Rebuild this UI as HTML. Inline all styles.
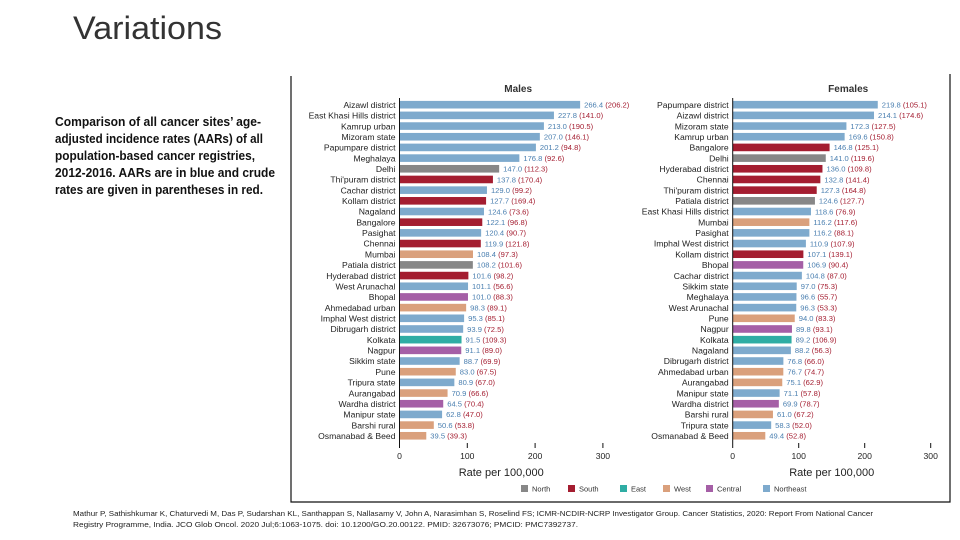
<!DOCTYPE html>
<html><head><meta charset="utf-8"><style>
body{margin:0;background:#fff}
svg{display:block;font-family:"Liberation Sans",sans-serif}
</style></head><body>
<svg id="chart" width="960" height="540" viewBox="0 0 960 540" xmlns="http://www.w3.org/2000/svg">
<text x="73" y="39" font-size="32" fill="#333" textLength="149" lengthAdjust="spacingAndGlyphs">Variations</text>
<g font-size="12.5" font-weight="bold" fill="#111">
<text x="55" y="126" textLength="206" lengthAdjust="spacingAndGlyphs">Comparison of all cancer sites’ age-</text>
<text x="55" y="143" textLength="208" lengthAdjust="spacingAndGlyphs">adjusted incidence rates (AARs) of all</text>
<text x="55" y="160" textLength="200" lengthAdjust="spacingAndGlyphs">population-based cancer registries,</text>
<text x="55" y="177" textLength="220" lengthAdjust="spacingAndGlyphs">2012-2016. AARs are in blue and crude</text>
<text x="55" y="194" textLength="208" lengthAdjust="spacingAndGlyphs">rates are given in parentheses in red.</text>
</g>
<g font-size="7.5" fill="#222">
<text x="73" y="516" textLength="800" lengthAdjust="spacingAndGlyphs">Mathur P, Sathishkumar K, Chaturvedi M, Das P, Sudarshan KL, Santhappan S, Nallasamy V, John A, Narasimhan S, Roselind FS; ICMR-NCDIR-NCRP Investigator Group. Cancer Statistics, 2020: Report From National Cancer</text>
<text x="73" y="527" textLength="505" lengthAdjust="spacingAndGlyphs">Registry Programme, India. JCO Glob Oncol. 2020 Jul;6:1063-1075. doi: 10.1200/GO.20.00122. PMID: 32673076; PMCID: PMC7392737.</text>
</g>
<path d="M291 76 V502 H950 V74" fill="none" stroke="#111" stroke-width="1.2"/>
<g id="plots"></g>
</svg>
<script>
const maleNames=["Aizawl district","East Khasi Hills district","Kamrup urban","Mizoram state","Papumpare district","Meghalaya","Delhi","Thi'puram district","Cachar district","Kollam district","Nagaland","Bangalore","Pasighat","Chennai","Mumbai","Patiala district","Hyderabad district","West Arunachal","Bhopal","Ahmedabad urban","Imphal West district","Dibrugarh district","Kolkata","Nagpur","Sikkim state","Pune","Tripura state","Aurangabad","Wardha district","Manipur state","Barshi rural","Osmanabad & Beed"];
const maleAAR=[266.4,227.8,213.0,207.0,201.2,176.8,147.0,137.8,129.0,127.7,124.6,122.1,120.4,119.9,108.4,108.2,101.6,101.1,101.0,98.3,95.3,93.9,91.5,91.1,88.7,83.0,80.9,70.9,64.5,62.8,50.6,39.5];
const maleCrude=[206.2,141.0,190.5,146.1,94.8,92.6,112.3,170.4,99.2,169.4,73.6,96.8,90.7,121.8,97.3,101.6,98.2,56.6,88.3,89.1,85.1,72.5,109.3,89.0,69.9,67.5,67.0,66.6,70.4,47.0,53.8,39.3];
const maleRegion=["NE","NE","NE","NE","NE","NE","N","S","NE","S","NE","S","NE","S","W","N","S","NE","C","W","NE","NE","E","C","NE","W","NE","W","C","NE","W","W"];
const femaleNames=["Papumpare district","Aizawl district","Mizoram state","Kamrup urban","Bangalore","Delhi","Hyderabad district","Chennai","Thi'puram district","Patiala district","East Khasi Hills district","Mumbai","Pasighat","Imphal West district","Kollam district","Bhopal","Cachar district","Sikkim state","Meghalaya","West Arunachal","Pune","Nagpur","Kolkata","Nagaland","Dibrugarh district","Ahmedabad urban","Aurangabad","Manipur state","Wardha district","Barshi rural","Tripura state","Osmanabad & Beed"];
const femaleAAR=[219.8,214.1,172.3,169.6,146.8,141.0,136.0,132.8,127.3,124.6,118.6,116.2,116.2,110.9,107.1,106.9,104.8,97.0,96.6,96.3,94.0,89.8,89.2,88.2,76.8,76.7,75.1,71.1,69.9,61.0,58.3,49.4];
const femaleCrude=[105.1,174.6,127.5,150.8,125.1,119.6,109.8,141.4,164.8,127.7,76.9,117.6,88.1,107.9,139.1,90.4,87.0,75.3,55.7,53.3,83.3,93.1,106.9,56.3,66.0,74.7,62.9,57.8,78.7,67.2,52.0,52.8];
const femaleRegion=["NE","NE","NE","NE","S","N","S","S","S","N","NE","W","NE","NE","S","C","NE","NE","NE","NE","W","C","E","NE","NE","W","W","NE","C","W","NE","W"];
const ticks=[0,100,200,300];
const legendKeys=["N","S","E","W","C","NE"];
const legendLabels=["North","South","East","West","Central","Northeast"];
const colors={N:"#878787",S:"#a41d30",E:"#2fada4",W:"#daa07c",C:"#a55fa6",NE:"#7eaacd"};
const NS="http://www.w3.org/2000/svg";
const root=document.getElementById('plots');
function mk(tag,attrs,parent,txt){const e=document.createElementNS(NS,tag);for(const k in attrs)e.setAttribute(k,attrs[k]);if(txt!==undefined)e.textContent=txt;parent.appendChild(e);return e;}
function panel(title,names,aar,crude,region,x0,scale,key){
  const g=mk('g',{},root);
  
  
  const xs=v=>x0+v*scale;
  const y0=104.7,step=10.68,bh=7.6;
  const ys=i=>y0+i*step;
  const t=mk('text',{x:xs(175),y:92,'font-size':10,'font-weight':'bold','text-anchor':'middle',fill:'#333'},g,title);
  
  
  names.forEach((n,i)=>{
    const lb=mk('text',{x:x0-4,y:ys(i)+3.2,'font-size':8.6,'text-anchor':'end',fill:'#222'},g,n);
    
    
    const r=mk('rect',{x:x0,y:ys(i)-bh/2,width:xs(aar[i])-x0,height:bh,fill:colors[region[i]]},g);
    
    
    const vt=mk('text',{x:xs(aar[i])+4,y:ys(i)+2.8,'font-size':7.6},g);
    
    
    mk('tspan',{fill:'#4a7fb0'},vt,aar[i].toFixed(1)+' ');
    mk('tspan',{fill:'#a41d30'},vt,'('+crude[i].toFixed(1)+')');
  });
  const ax=mk('line',{x1:x0,x2:x0,y1:98,y2:448,stroke:'#111','stroke-width':1},g);
  
  
  ticks.forEach(tv=>{
    if(tv>0){const tk=mk('line',{x1:xs(tv),x2:xs(tv),y1:443,y2:448,stroke:'#111'},g);
    
    }
    const tl=mk('text',{x:xs(tv),y:459,'font-size':8.6,'text-anchor':'middle',fill:'#222'},g,String(tv));
    
    
  });
  const at=mk('text',{x:xs(150),y:476,'font-size':11,'text-anchor':'middle',fill:'#222'},g,'Rate per 100,000');
  
  
}
panel('Males',maleNames,maleAAR,maleCrude,maleRegion,399.5,0.678,'males');
panel('Females',femaleNames,femaleAAR,femaleCrude,femaleRegion,732.7,0.66,'females');
const lg=mk('g',{},root);


const lx=[521,568,620,663,706,763];
legendKeys.forEach((k,i)=>{
  const e=mk('g',{},lg);
  
  
  mk('rect',{x:lx[i],y:485,width:7,height:7,fill:colors[k]},e);
  mk('text',{x:lx[i]+11,y:491.5,'font-size':7.5,fill:'#333'},e,legendLabels[i]);
});
</script>
</body></html>
